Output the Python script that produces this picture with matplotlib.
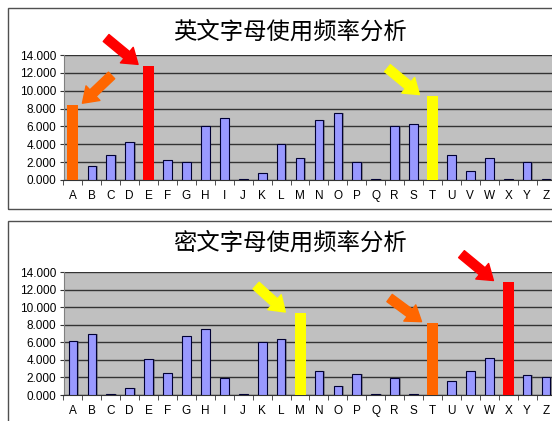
import matplotlib
matplotlib.use("Agg")
import matplotlib.pyplot as plt
from matplotlib.patches import Rectangle
from matplotlib.ticker import FuncFormatter, FixedLocator
import numpy as np

plt.rcParams['font.family'] = ['Liberation Sans', 'Noto Sans CJK SC', 'DejaVu Sans']

letters = list("ABCDEFGHIJKLMNOPQRSTUVWXYZ")

# English letter frequency (%)
plain_freq = [8.45, 1.55, 2.8, 4.28, 12.8, 2.22, 2.0, 6.1, 6.95, 0.15, 0.8, 4.0, 2.42,
              6.75, 7.47, 1.97, 0.08, 6.0, 6.3, 9.42, 2.76, 0.98, 2.42, 0.15, 1.97, 0.07]
# Ciphertext letter frequency (%)
cipher_freq = [6.1, 7.0, 0.15, 0.78, 4.07, 2.45, 6.73, 7.48, 1.97, 0.1, 6.0, 6.32, 9.3,
               2.78, 1.0, 2.4, 0.15, 1.97, 0.07, 8.2, 1.55, 2.78, 4.2, 12.88, 2.22, 2.0]

top_title = "英文字母使用频率分析"
bot_title = "密文字母使用频率分析"

# highlighted letters: letter -> (colour, arrow tip offset in x, tail offset in pt)
top_marks = {"A": ("#FF6600", 0.5, (21, 20)),
             "E": ("#FF0000", -0.56, (-23, 19)),
             "T": ("#FFFF00", -0.69, (-23, 19))}
bot_marks = {"M": ("#FFFF00", -0.78, (-21, 19)),
             "T": ("#FF6600", -0.58, (-23, 17)),
             "X": ("#FF0000", -0.78, (-23, 19))}

W, H = 552, 421
fig = plt.figure(figsize=(W / 100, H / 100), dpi=100)

# panel frames
fig.add_artist(Rectangle((8 / W, 1 - 209 / H), 560 / W, 201 / H, transform=fig.transFigure,
                         fill=False, edgecolor="#505050", lw=1.0))
fig.add_artist(Rectangle((8 / W, -0.05), 560 / W, 1 - 221 / H + 0.05, transform=fig.transFigure,
                         fill=False, edgecolor="#505050", lw=1.0))


def draw(ax, vals, marks, title, title_y):
    x = np.arange(len(letters))
    for i, (l, v) in enumerate(zip(letters, vals)):
        if l in marks:
            ax.bar(i, v, width=0.58, color=marks[l][0], zorder=3)
        else:
            ax.bar(i + 0.08, v, width=0.46, color="#555555", zorder=2, alpha=0.5)
            ax.bar(i, v, width=0.46, color="#9999FF", edgecolor="#000033", lw=0.8, zorder=3)
    ax.set_facecolor("#C0C0C0")
    ax.set_ylim(0, 14)
    ax.set_xlim(-0.5, len(letters) - 0.5)
    ax.set_yticks(np.arange(0, 15, 2))
    ax.yaxis.set_major_formatter(FuncFormatter(lambda v, p: f"{v:.3f}"))
    ax.grid(axis="y", color="#333333", lw=1.0, zorder=1)
    ax.set_xticks(x)
    ax.set_xticklabels(letters)
    ax.xaxis.set_minor_locator(FixedLocator(x - 0.5))
    ax.tick_params(axis="x", which="major", length=0, pad=7, labelsize=8.5)
    ax.tick_params(axis="x", which="minor", length=3.5, color="#333333")
    ax.tick_params(axis="y", length=3, pad=2, labelsize=8.5, color="#333333")
    for s in ["top", "right"]:
        ax.spines[s].set_visible(False)
    ax.spines["left"].set_color("#808080")
    ax.spines["bottom"].set_color("#333333")
    for l, (c, dx, off) in marks.items():
        i = letters.index(l)
        v = vals[i]
        ax.annotate("", xy=(i + dx, v + 0.15), xytext=off, textcoords="offset points",
                    arrowprops=dict(arrowstyle="simple,head_length=1.05,head_width=1.45,tail_width=0.65",
                                    mutation_scale=10, color=c, shrinkA=0, shrinkB=0),
                    annotation_clip=False, zorder=5)
    fig.text(290 / W, title_y, title, ha="center", va="center", fontsize=16.8,
             family=["Noto Sans CJK SC", "DejaVu Sans"])


ax1 = fig.add_axes([63.5 / W, 1 - 180 / H, 492 / W, 125 / H])
draw(ax1, plain_freq, top_marks, top_title, 1 - 32 / H)
ax2 = fig.add_axes([63.5 / W, 1 - 395 / H, 492 / W, 123 / H])
draw(ax2, cipher_freq, bot_marks, bot_title, 1 - 243 / H)

fig.savefig("out.png", dpi=100)
